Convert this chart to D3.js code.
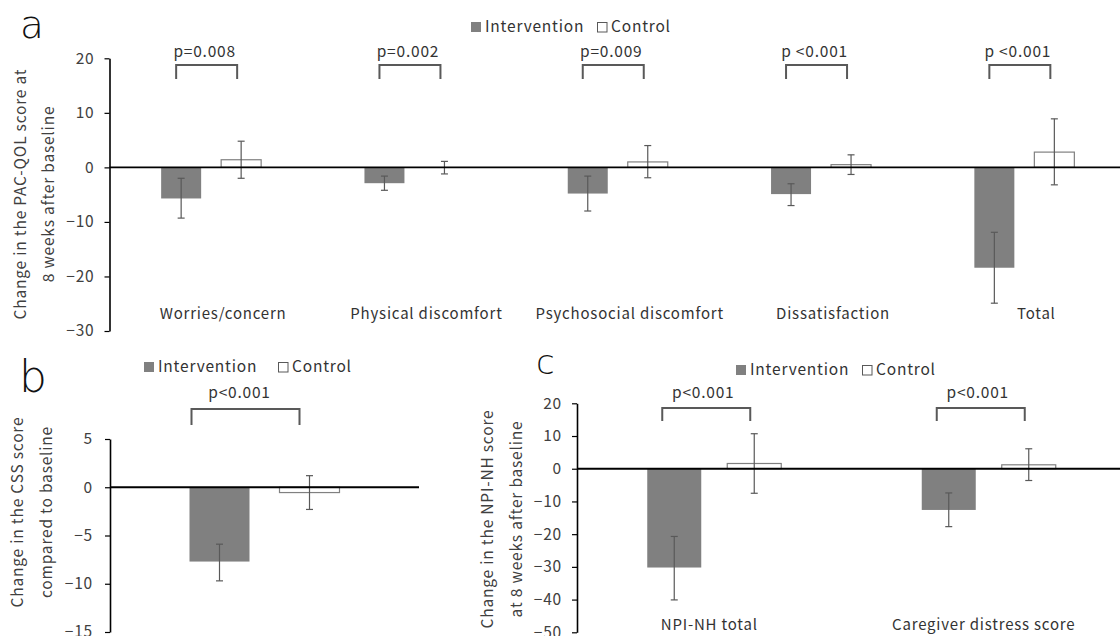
<!DOCTYPE html>
<html>
<head>
<meta charset="utf-8">
<script src="https://cdn.jsdelivr.net/npm/d3@7"></script>
<style>
  html, body { margin: 0; padding: 0; background: #fff; }
  svg { display: block; font-family: "Noto Sans CJK JP", "Noto Sans", sans-serif; }
</style>
</head>
<body>
<svg id="chart" width="1120" height="636"></svg>
<script>
// ---- Panel a: PAC-QOL ----
const aCategories = ["Worries/concern", "Physical discomfort", "Psychosocial discomfort", "Dissatisfaction", "Total"];
const aIntervention = [-5.7, -2.9, -4.8, -4.9, -18.4];
const aInterventionHi = [-2.0, -1.6, -1.6, -3.0, -11.9];
const aInterventionLo = [-9.3, -4.2, -8.0, -7.0, -24.9];
const aControl = [1.4, 0.0, 1.0, 0.5, 2.8];
const aControlHi = [4.8, 1.1, 4.0, 2.3, 8.9];
const aControlLo = [-2.0, -1.2, -1.9, -1.3, -3.2];
const aPValues = ["p=0.008", "p=0.002", "p=0.009", "p <0.001", "p <0.001"];
const aTicks = [20, 10, 0, -10, -20, -30];

// ---- Panel b: CSS ----
const bCategories = [""];
const bIntervention = [-7.7];
const bInterventionHi = [-5.9];
const bInterventionLo = [-9.7];
const bControl = [-0.55];
const bControlHi = [1.2];
const bControlLo = [-2.3];
const bPValues = ["p<0.001"];
const bTicks = [5, 0, -5, -10, -15];

// ---- Panel c: NPI-NH ----
const cCategories = ["NPI-NH total", "Caregiver distress score"];
const cIntervention = [-30.2, -12.6];
const cInterventionHi = [-20.7, -7.4];
const cInterventionLo = [-40.1, -17.7];
const cControl = [1.6, 1.2];
const cControlHi = [10.7, 6.1];
const cControlLo = [-7.5, -3.6];
const cPValues = ["p<0.001", "p<0.001"];
const cTicks = [20, 10, 0, -10, -20, -30, -40, -50];

const legendLabels = ["Intervention", "Control"];

const svg = d3.select("#chart");
const TXT = "#404040";
const GRAY = "#808080";
const ERR = "#595959";
const LS = "0.8px";

function drawPanel(o) {
  const g = svg.append("g");
  const y = d3.scaleLinear().domain(o.domain).range([o.yBot, o.yTop]);
  const x = d3.scaleBand().domain(o.cats).range([o.x0, o.xEnd]);
  const rows = o.cats.map((c, i) => ({
    c, iv: o.iv[i], ivHi: o.ivHi[i], ivLo: o.ivLo[i],
    ct: o.ct[i], ctHi: o.ctHi[i], ctLo: o.ctLo[i], p: o.pv[i]
  }));
  const mid = d => x(d) + x.bandwidth() / 2;
  const ivX = d => mid(d.c) - o.gap / 2 - o.barW;
  const ctX = d => mid(d.c) + o.gap / 2;

  // axis
  const axis = d3.axisLeft(y).tickValues(o.ticks).tickSize(5).tickSizeOuter(0).tickPadding(o.tickPad)
    .tickFormat(d3.format("d"));
  const ax = g.append("g").attr("transform", `translate(${o.x0},0)`).call(axis);
  ax.select(".domain").attr("stroke", "#000").attr("stroke-width", 1.6);
  ax.selectAll(".tick line").attr("stroke", "#000").attr("stroke-width", 1.2);
  ax.selectAll(".tick text").attr("fill", TXT).style("font-size", "15.5px").style("letter-spacing", LS)
    .style("font-family", '"Noto Sans CJK JP", "Noto Sans", sans-serif');

  // bars
  g.selectAll(".iv").data(rows).join("rect")
    .attr("x", ivX).attr("width", o.barW)
    .attr("y", d => y(Math.max(0, d.iv))).attr("height", d => Math.abs(y(d.iv) - y(0)))
    .attr("fill", GRAY);
  g.selectAll(".ct").data(rows).join("rect")
    .attr("x", ctX).attr("width", o.barW)
    .attr("y", d => y(Math.max(0, d.ct))).attr("height", d => Math.abs(y(d.ct) - y(0)))
    .attr("fill", "#fff").attr("stroke", GRAY).attr("stroke-width", 1.2);

  // error bars
  function err(cx, lo, hi) {
    g.append("line").attr("x1", cx).attr("x2", cx).attr("y1", y(lo)).attr("y2", y(hi))
      .attr("stroke", ERR).attr("stroke-width", 1.2);
    [lo, hi].forEach(v => g.append("line").attr("x1", cx - 3.5).attr("x2", cx + 3.5)
      .attr("y1", y(v)).attr("y2", y(v)).attr("stroke", ERR).attr("stroke-width", 1.2));
  }
  rows.forEach(d => {
    err(ivX(d) + o.barW / 2, d.ivLo, d.ivHi);
    err(ctX(d) + o.barW / 2, d.ctLo, d.ctHi);
  });

  // zero line
  g.append("line").attr("x1", o.x0).attr("x2", o.lineEnd).attr("y1", y(0)).attr("y2", y(0))
    .attr("stroke", "#000").attr("stroke-width", 1.8);

  // category labels
  g.selectAll(".cat").data(rows).join("text")
    .attr("x", d => mid(d.c) + o.catDx).attr("y", o.catY)
    .attr("text-anchor", "middle").attr("fill", "#333").style("font-size", "15px")
    .style("letter-spacing", LS).text(d => d.c);

  // significance brackets
  rows.forEach(d => {
    const l = ivX(d) + o.barW / 2 + o.brL;
    const r = ctX(d) + o.barW / 2 + o.brR;
    g.append("path")
      .attr("d", `M${l},${o.brLeg}V${o.brTop}H${r}V${o.brLeg}`)
      .attr("fill", "none").attr("stroke", "#595959").attr("stroke-width", 2);
    g.append("text").attr("x", (l + r) / 2 + o.pDx).attr("y", o.pY)
      .attr("text-anchor", "middle").attr("fill", "#333").style("font-size", "15.5px")
      .style("letter-spacing", LS).text(d.p);
  });

  // legend
  const lg = g.append("g");
  lg.append("rect").attr("x", o.lg1).attr("y", o.lgY - 5).attr("width", 10).attr("height", 10).attr("fill", GRAY);
  lg.append("text").attr("x", o.lg1 + 14).attr("y", o.lgY).attr("dy", "0.35em")
    .attr("fill", "#333").style("font-size", "15.5px").style("letter-spacing", LS).text(legendLabels[0]);
  lg.append("rect").attr("x", o.lg2 + 0.5).attr("y", o.lgY - 4.5).attr("width", 9.5).attr("height", 9.5)
    .attr("fill", "#fff").attr("stroke", "#595959").attr("stroke-width", 1);
  lg.append("text").attr("x", o.lg2 + 14).attr("y", o.lgY).attr("dy", "0.35em")
    .attr("fill", "#333").style("font-size", "15.5px").style("letter-spacing", LS).text(legendLabels[1]);

  // panel letter
  g.append("text").attr("x", o.letterX).attr("y", o.letterY).attr("fill", "#111")
    .style("font-size", o.letterSize + "px").style("font-weight", 200)
    .style("font-family", '"DejaVu Sans", "Noto Sans", sans-serif').text(o.letter);

  // y title (two lines)
  o.title.forEach((t, i) => {
    g.append("text")
      .attr("transform", `translate(${o.titleX[i]},${o.titleY}) rotate(-90)`)
      .attr("text-anchor", "middle").attr("dy", "0.35em")
      .attr("fill", TXT).style("font-size", "15.5px").style("letter-spacing", LS).text(t);
  });
}

drawPanel({
  cats: aCategories, iv: aIntervention, ivHi: aInterventionHi, ivLo: aInterventionLo,
  ct: aControl, ctHi: aControlHi, ctLo: aControlLo, pv: aPValues, ticks: aTicks,
  domain: [-30, 20], yTop: 58.3, yBot: 331, x0: 109.5, xEnd: 1126, lineEnd: 1120,
  barW: 40, gap: 20, tickPad: 10, catY: 319, catDx: 12,
  brL: -5, brR: -4, brTop: 65, brLeg: 79, pY: 57, pDx: -2,
  lg1: 471, lg2: 597, lgY: 27,
  letter: "a", letterX: 20, letterY: 37.5, letterSize: 39,
  title: ["Change in the PAC-QOL score at", "8 weeks after baseline"], titleX: [21, 49], titleY: 194
});

drawPanel({
  cats: bCategories, iv: bIntervention, ivHi: bInterventionHi, ivLo: bInterventionLo,
  ct: bControl, ctHi: bControlHi, ctLo: bControlLo, pv: bPValues, ticks: bTicks,
  domain: [-15, 5], yTop: 439, yBot: 632, x0: 110, xEnd: 419, lineEnd: 419,
  barW: 60, gap: 30, tickPad: 12, catY: 660, catDx: 0,
  brL: -28, brR: -10, brTop: 409, brLeg: 425, pY: 398, pDx: -6,
  lg1: 144, lg2: 278, lgY: 367,
  letter: "b", letterX: 19, letterY: 392, letterSize: 44,
  title: ["Change in the CSS score", "compared to baseline"], titleX: [18, 47], titleY: 512
});

drawPanel({
  cats: cCategories, iv: cIntervention, ivHi: cInterventionHi, ivLo: cInterventionLo,
  ct: cControl, ctHi: cControlHi, ctLo: cControlLo, pv: cPValues, ticks: cTicks,
  domain: [-50, 20], yTop: 403.3, yBot: 632.3, x0: 577, xEnd: 1126, lineEnd: 1120,
  barW: 54, gap: 26, tickPad: 10, catY: 630, catDx: -5,
  brL: -12, brR: -4, brTop: 408, brLeg: 421, pY: 398, pDx: -3,
  lg1: 736, lg2: 862, lgY: 370,
  letter: "c", letterX: 536, letterY: 374, letterSize: 34,
  title: ["Change in the NPI-NH score", "at 8 weeks after baseline"], titleX: [488, 517], titleY: 519
});
</script>
</body>
</html>
